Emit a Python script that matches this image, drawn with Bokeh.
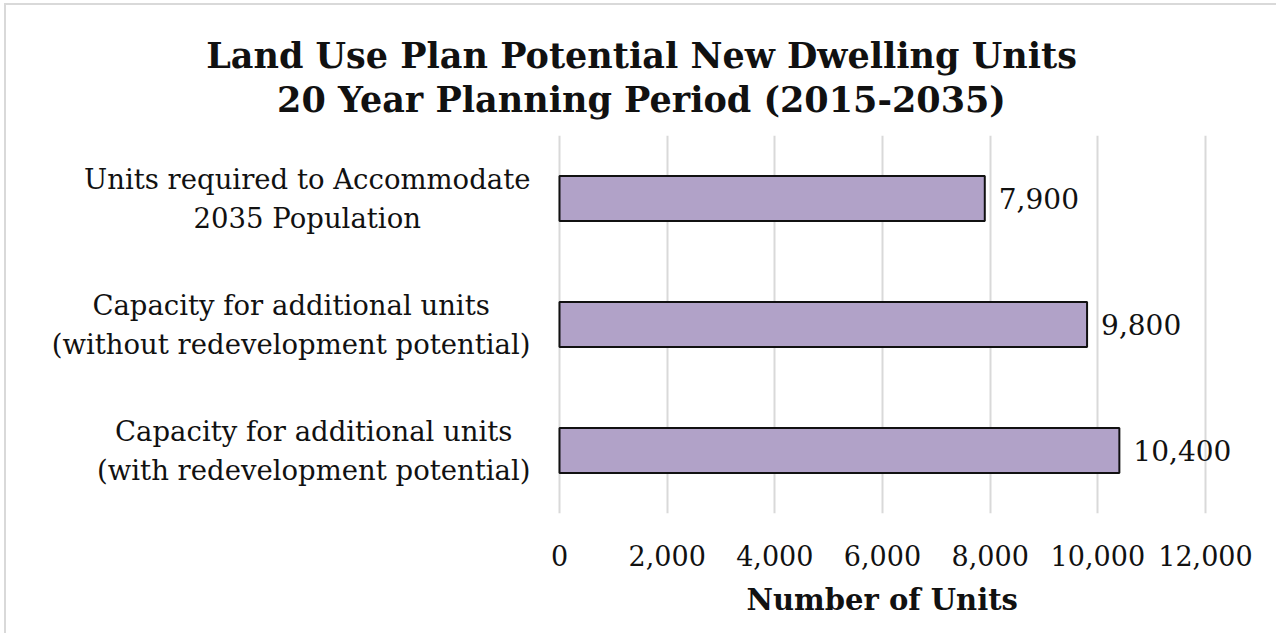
from bokeh.plotting import figure
from bokeh.models import ColumnDataSource, FactorRange, Range1d, NumeralTickFormatter, LabelSet, FixedTicker, Title
from bokeh.core.properties import value
from bokeh.embed import file_html
from bokeh.resources import INLINE

# ---- data ----
categories = [
    "Capacity for additional units\n(with redevelopment potential)",
    "Capacity for additional units\n(without redevelopment potential)",
    "Units required to Accommodate\n2035 Population",
]
values = [10400, 9800, 7900]
value_labels = ["10,400", "9,800", "7,900"]
x_ticks = [0, 2000, 4000, 6000, 8000, 10000, 12000]
x_max = 12000
title_lines = ["Land Use Plan Potential New Dwelling Units", "20 Year Planning Period (2015-2035)"]
x_axis_title = "Number of Units"

FONT = "DejaVu Serif"
BAR = "#b1a2c8"
TXT = "#111111"

# ---- layout constants (pixels) ----
W, H = 1270, 628
ZERO_PX = 553          # where value 0 sits, from the figure's left edge
SPAN_PX = 646          # pixels covered by 0..x_max
ppu = SPAN_PX / x_max

src = ColumnDataSource(dict(cat=categories, val=values, lab=value_labels,
                            base=[0] * len(values)))

p = figure(width=W, height=H, output_backend="svg", toolbar_location=None, title=None,
           y_range=FactorRange(factors=categories, range_padding=0),
           x_range=Range1d(-ZERO_PX / ppu, (W - ZERO_PX) / ppu),
           min_border_left=0, min_border_right=0, min_border_top=130, min_border_bottom=120,
           margin=(5, 0, 0, 6))
p.styles = {"outline": "2px solid #d9d9d9"}
p.outline_line_color = None
p.background_fill_color = "white"
p.border_fill_color = "white"

p.xgrid.grid_line_color = "#d9d9d9"
p.xgrid.grid_line_width = 2
p.ygrid.grid_line_color = None

p.hbar(y="cat", right="val", left="base", height=0.357, source=src,
       fill_color=BAR, line_color="#111111", line_width=2)

# category labels, right-aligned block, centred lines
p.text(x="base", y="cat", text="cat", source=src, x_offset=-29,
       anchor="center_right", text_align="center", text_baseline="middle",
       text_font=value(FONT), text_font_size="27.5px", text_color=TXT)

p.add_layout(LabelSet(x="val", y="cat", text="lab", source=src, x_offset=14,
                      text_align="left", text_baseline="middle",
                      text_font=value(FONT), text_font_size="28px", text_color=TXT))

# axes
p.yaxis.visible = False
p.xaxis.ticker = FixedTicker(ticks=x_ticks)
p.xaxis.formatter = NumeralTickFormatter(format="0,0")
p.xaxis.axis_line_color = None
p.xaxis.major_tick_line_color = None
p.xaxis.minor_tick_line_color = None
p.xaxis.major_tick_out = 0
p.xaxis.major_label_standoff = 31
p.xaxis.major_label_text_font = FONT
p.xaxis.major_label_text_font_size = "27px"
p.xaxis.major_label_text_color = TXT

# axis title below, centred under the 0..x_max span
p.add_layout(Title(text=x_axis_title, align="left", offset=ZERO_PX + SPAN_PX / 2 - 136,
                   text_font=FONT, text_font_style="bold", text_font_size="29px",
                   text_color=TXT, standoff=25), "below")

# chart title, two centred lines (nearest-frame first)
p.add_layout(Title(text=title_lines[1], align="center", text_font=FONT,
                   text_font_style="bold", text_font_size="35px", text_color=TXT,
                   standoff=31), "above")
p.add_layout(Title(text=title_lines[0], align="center", text_font=FONT,
                   text_font_style="bold", text_font_size="35px", text_color=TXT,
                   standoff=-28), "above")

open("out.html", "w").write(file_html(p, INLINE))
